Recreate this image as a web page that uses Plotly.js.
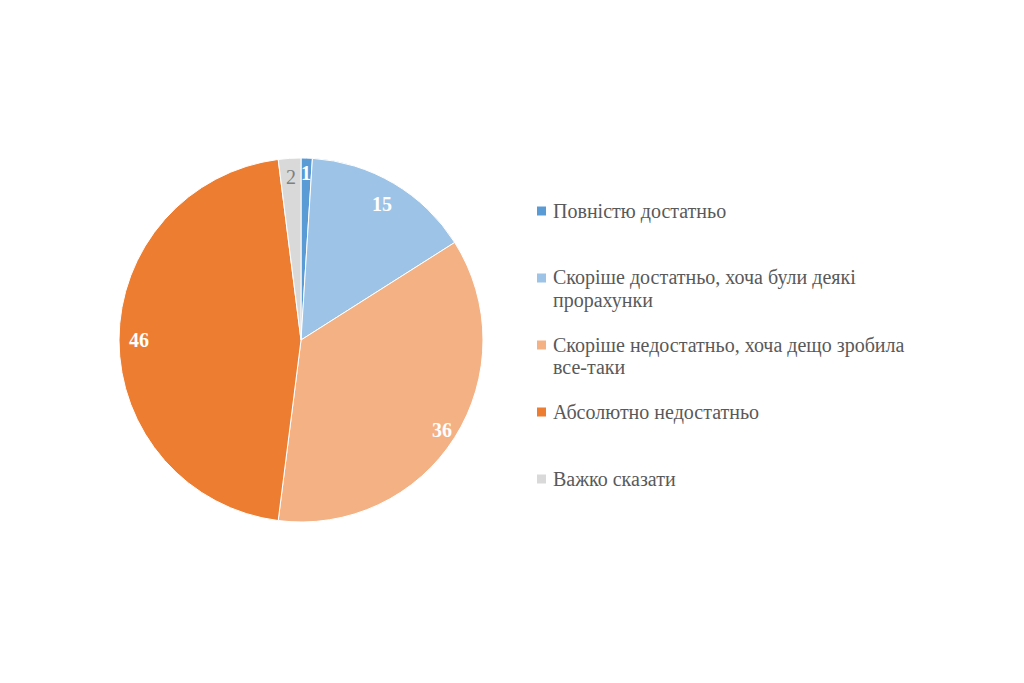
<!DOCTYPE html>
<html>
<head>
<meta charset="utf-8">
<script src="https://cdn.plot.ly/plotly-3.0.1.min.js"></script>
<style>html,body{margin:0;padding:0;background:#fff;}#chart{width:1024px;height:683px;}</style>
</head>
<body>
<div id="chart"></div>
<script>
const categories = [
  "Повністю достатньо",
  "Скоріше достатньо, хоча були деякі<br>прорахунки",
  "Скоріше недостатньо, хоча дещо зробила<br>все-таки",
  "Абсолютно недостатньо",
  "Важко сказати"
];
const values = [1, 15, 36, 46, 2];
const colors = ["#5B9BD5", "#9DC3E6", "#F4B183", "#ED7D31", "#D9D9D9"];
const labelColors = ["#FFFFFF", "#FFFFFF", "#FFFFFF", "#FFFFFF", "#7F7F7F"];
const labelBold = [true, true, true, true, false];

const W = 1024, H = 683;
const cx = 301, cy = 340, R = 182;
const FONT = "Liberation Serif, Times New Roman, serif";

const total = values.reduce((a, b) => a + b, 0);
const labelRadius = [0.92, 0.87, 0.92, 0.89, 0.9];
let cum = 0;
const annotations = values.map((v, i) => {
  const mid = (cum + v / 2) / total * 2 * Math.PI;
  cum += v;
  const r = R * labelRadius[i];
  const px = cx + r * Math.sin(mid);
  const py = cy - r * Math.cos(mid);
  const txt = labelBold[i] ? "<b>" + v + "</b>" : String(v);
  return {
    x: px / W, y: 1 - py / H, xref: "paper", yref: "paper",
    text: txt, showarrow: false,
    font: {family: FONT, size: 20, color: labelColors[i]},
    xanchor: "center", yanchor: "middle"
  };
});

// Legend drawn as text + square swatches
const legTop = 211, legStep = 67, lineStep = 22, textX = 551, swX = 541.5, sw = 9;
const shapes = [];
categories.forEach((c, i) => {
  const top = legTop + legStep * i;
  c.split("<br>").forEach((line, j) => {
    annotations.push({
      x: textX / W, y: 1 - (top + lineStep * j) / H, xref: "paper", yref: "paper",
      text: line, showarrow: false, xanchor: "left", yanchor: "middle",
      font: {family: FONT, size: 20, color: "#595959"}
    });
  });
  shapes.push({
    type: "rect", xref: "paper", yref: "paper",
    x0: (swX - sw / 2) / W, x1: (swX + sw / 2) / W,
    y0: 1 - (top + sw / 2) / H, y1: 1 - (top - sw / 2) / H,
    fillcolor: colors[i], line: {width: 0}
  });
});

const trace = {
  type: "pie",
  labels: categories.map(c => c.replace("<br>", " ")),
  values: values,
  sort: false,
  direction: "clockwise",
  rotation: 0,
  textinfo: "none",
  marker: {colors: colors, line: {color: "#FFFFFF", width: 1}},
  domain: {x: [(cx - R) / W, (cx + R) / W], y: [1 - (cy + R) / H, 1 - (cy - R) / H]},
  hoverinfo: "label+value"
};

const layout = {
  width: W, height: H,
  margin: {l: 0, r: 0, t: 0, b: 0},
  paper_bgcolor: "#FFFFFF",
  showlegend: false,
  annotations: annotations,
  shapes: shapes
};

Plotly.newPlot("chart", [trace], layout, {displayModeBar: false, staticPlot: true});
</script>
</body>
</html>
